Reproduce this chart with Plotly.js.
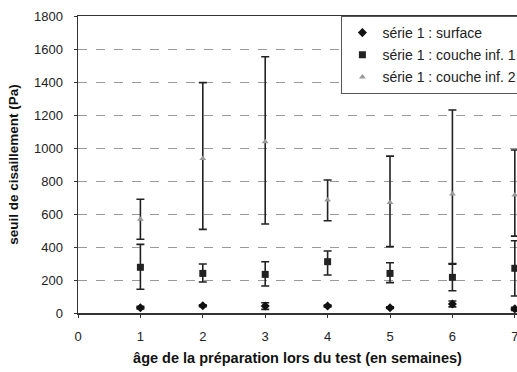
<!DOCTYPE html>
<html>
<head>
<meta charset="utf-8">
<script src="https://cdn.plot.ly/plotly-3.0.1.min.js"></script>
<style>html,body{margin:0;padding:0;background:#fff;}#chart{width:517px;height:372px;}</style>
</head>
<body>
<div id="chart"></div>
<script>
const weeks = [1, 2, 3, 4, 5, 6, 7];
const xTicks = [0, 1, 2, 3, 4, 5, 6, 7];
const yTicks = [0, 200, 400, 600, 800, 1000, 1200, 1400, 1600, 1800];

const surface = [32, 44, 42, 42, 32, 55, 25];
const surfaceErr = [8, 6, 20, 6, 5, 18, 10];

const layer1 = [277, 240, 234, 311, 240, 216, 271];
const layer1ErrPlus = [139, 57, 77, 65, 65, 80, 167];
const layer1ErrMinus = [133, 52, 70, 81, 56, 81, 168];

const layer2 = [568, 937, 1038, 685, 669, 721, 715];
const layer2ErrPlus = [121, 459, 515, 121, 282, 509, 273];
const layer2ErrMinus = [121, 430, 499, 126, 267, 421, 249];

const names = ["série 1 : surface", "série 1 : couche inf. 1", "série 1 : couche inf. 2"];

const errStyle = {color: "#222", thickness: 1.6, width: 4};

const traces = [
  {
    x: weeks, y: surface, name: names[0], type: "scatter", mode: "markers",
    legendgroup: "a",
    marker: {symbol: "diamond", size: 7, color: "#111"},
    error_y: Object.assign({type: "data", array: surfaceErr, visible: true}, errStyle)
  },
  {
    x: weeks, y: layer1, name: names[1], type: "scatter", mode: "markers",
    legendgroup: "b",
    marker: {symbol: "square", size: 7, color: "#222"},
    error_y: Object.assign({type: "data", symmetric: false, array: layer1ErrPlus, arrayminus: layer1ErrMinus, visible: true}, errStyle)
  },
  {
    x: weeks, y: layer2, name: names[2], type: "scatter", mode: "markers",
    legendgroup: "c",
    marker: {symbol: "triangle-up", size: 6, color: "#999"},
    error_y: Object.assign({type: "data", symmetric: false, array: layer2ErrPlus, arrayminus: layer2ErrMinus, visible: true}, errStyle)
  }
];

const layout = {
  width: 517, height: 372,
  margin: {l: 78, r: 0, t: 16, b: 59, autoexpand: false},
  paper_bgcolor: "#fff", plot_bgcolor: "#fff",
  font: {family: "Liberation Sans, Arial, sans-serif", size: 13, color: "#222"},
  showlegend: true,
  legend: {
    x: 0.6, xanchor: "left", y: 1, yanchor: "top",
    bgcolor: "#fff", bordercolor: "#555", borderwidth: 1,
    font: {size: 14, color: "#222"},
    traceorder: "grouped", tracegroupgap: 1
  },
  xaxis: {
    range: [0, 7.035], tickvals: xTicks, ticktext: xTicks.map(String),
    showgrid: false, zeroline: false,
    showline: true, linecolor: "#333", linewidth: 1.5, mirror: true,
    ticks: "outside", ticklen: 3, tickcolor: "#333",
    ticklabelstandoff: 8, ticklabeloverflow: "allow",
    title: {text: "âge de la préparation lors du test (en semaines)", font: {size: 14.5, color: "#111", weight: "bold"}, standoff: 10}
  },
  yaxis: {
    range: [0, 1800], tickvals: yTicks, ticktext: yTicks.map(String),
    showgrid: true, gridcolor: "#9a9a9a", griddash: "dash", gridwidth: 1,
    zeroline: false,
    showline: true, linecolor: "#333", linewidth: 1.5,
    ticks: "outside", ticklen: 3, tickcolor: "#333",
    ticklabelstandoff: 8,
    title: {text: "seuil de cisaillement (Pa)", font: {size: 13.5, color: "#111", weight: "bold"}, standoff: 12}
  }
};

Plotly.newPlot("chart", traces, layout, {displayModeBar: false, staticPlot: true});
</script>
</body>
</html>
